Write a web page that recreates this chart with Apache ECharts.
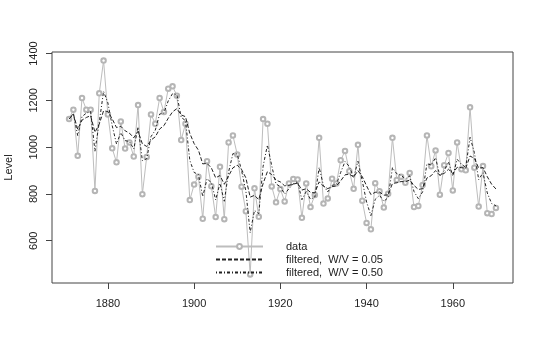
<!DOCTYPE html>
<html>
<head>
<meta charset="utf-8">
<script src="https://cdn.jsdelivr.net/npm/echarts@6/dist/echarts.min.js"></script>
<style>html,body{margin:0;padding:0;background:#fff;}#c{width:540px;height:349px;}</style>
</head>
<body>
<div id="c"></div>
<script>
var years = [1871,1872,1873,1874,1875,1876,1877,1878,1879,1880,1881,1882,1883,1884,1885,1886,1887,1888,1889,1890,
1891,1892,1893,1894,1895,1896,1897,1898,1899,1900,1901,1902,1903,1904,1905,1906,1907,1908,1909,1910,
1911,1912,1913,1914,1915,1916,1917,1918,1919,1920,1921,1922,1923,1924,1925,1926,1927,1928,1929,1930,
1931,1932,1933,1934,1935,1936,1937,1938,1939,1940,1941,1942,1943,1944,1945,1946,1947,1948,1949,1950,
1951,1952,1953,1954,1955,1956,1957,1958,1959,1960,1961,1962,1963,1964,1965,1966,1967,1968,1969,1970];
var level = [1120,1160,963,1210,1160,1160,813,1230,1370,1140,995,935,1110,994,1020,960,1180,799,958,1140,
1100,1210,1150,1250,1260,1220,1030,1100,774,840,874,694,940,833,701,916,692,1020,1050,969,
831,726,456,824,702,1120,1100,832,764,821,768,845,864,862,698,845,744,796,1040,759,
781,865,845,944,984,897,822,1010,771,676,649,846,812,742,801,1040,860,874,848,890,
744,749,838,1050,918,986,797,923,975,815,1020,906,901,1170,912,746,919,718,714,740];
var filtered005 = [1120,1140.5,1076.6,1115.4,1126.7,1134.5,1063.4,1098.9,1155.3,1152.2,1120.8,1083.6,1088.9,1069.9,1059.9,1039.9,1067.9,1014.1,1002.9,1030.3,
1044.2,1077.4,1091.9,1123.5,1150.8,1164.6,1137.7,1130.2,1059.0,1015.2,987.0,928.4,930.7,911.2,869.2,878.6,841.3,877.0,911.6,923.1,
904.7,869.0,786.4,793.9,775.5,844.4,895.5,882.8,859.0,851.4,834.7,836.8,842.2,846.2,816.6,822.3,806.6,804.5,851.6,833.1,
822.7,831.2,834.0,856.0,881.6,884.7,872.2,899.8,874.0,834.4,797.3,807.0,808.0,794.8,796.0,844.8,847.8,853.0,852.0,859.6,
836.5,819.0,822.8,868.2,878.2,899.8,879.2,888.0,905.4,887.3,913.8,912.2,910.0,962.0,952.0,910.8,912.4,873.5,841.6,821.3];
var filtered050 = [1120,1144,1049.2,1130.6,1145.3,1152.7,982.8,1106.4,1238.2,1189.1,1092.0,1013.5,1061.8,1027.9,1024.0,992.0,1086.0,942.5,950.2,1045.1,
1072.6,1141.3,1145.6,1197.8,1228.9,1224.5,1127.2,1113.6,943.8,891.9,883.0,788.5,864.2,848.6,774.8,845.4,768.7,894.4,972.2,970.6,
900.8,813.4,634.7,729.4,715.7,917.8,1008.9,920.5,842.2,831.6,799.8,822.4,843.2,852.6,775.3,810.2,777.1,786.5,913.3,836.1,
808.6,836.8,840.9,892.5,938.2,917.6,869.8,939.9,855.5,765.7,707.4,776.7,794.3,768.2,784.6,912.3,886.2,880.1,864.0,877.0,
810.5,779.8,808.9,929.4,923.7,954.9,875.9,899.5,937.2,876.1,948.1,927.0,914.0,1042.0,977.0,861.5,890.2,804.1,759.1,749.5];
var xTicks = [1880,1900,1920,1940,1960];
var yTicks = [600,800,1000,1200,1400];
var legendNames = ['data','filtered,  W/V = 0.05','filtered,  W/V = 0.50'];

function pairs(v){ return years.map(function(y,i){ return [y, v[i]]; }); }
function plain(v){ return String(v); }

var chart = echarts.init(document.getElementById('c'), null, {renderer:'canvas'});
var font = 'Liberation Sans, Arial, sans-serif';
chart.setOption({
  animation: false,
  backgroundColor: '#fff',
  grid: {left: 52, right: 27, top: 52, bottom: 66, outerBoundsMode: 'none', containLabel: false,
         show: true, borderColor: '#444', borderWidth: 1, backgroundColor: 'transparent'},
  legend: {
    orient: 'vertical', left: 210, top: 236,
    itemWidth: 47, itemHeight: 6, itemGap: 2,
    textStyle: {fontFamily: font, fontSize: 11, color: '#222', lineHeight: 11, padding: [0,0,0,18]},
    data: [
      {name: legendNames[0]},
      {name: legendNames[1], itemStyle: {opacity: 0}},
      {name: legendNames[2], itemStyle: {opacity: 0}}
    ]
  },
  xAxis: {
    type: 'value', min: 1867.04, max: 1973.96,
    axisLine: {show: false},
    axisTick: {show: true, length: 6, lineStyle: {color: '#444'}, customValues: xTicks},
    axisLabel: {fontFamily: font, fontSize: 11, color: '#222', margin: 15, customValues: xTicks, formatter: plain},
    splitLine: {show: false}
  },
  yAxis: {
    type: 'value', min: 419.4, max: 1406.6,
    name: 'Level', nameLocation: 'middle', nameGap: 38, nameRotate: 90,
    nameTextStyle: {fontFamily: font, fontSize: 11, color: '#222'},
    axisLine: {show: false},
    axisTick: {show: true, length: 6, lineStyle: {color: '#444'}, customValues: yTicks},
    axisLabel: {fontFamily: font, fontSize: 11, color: '#222', margin: 13, rotate: 90, customValues: yTicks, formatter: plain},
    splitLine: {show: false}
  },
  series: [
    {name: legendNames[0], type: 'line', data: pairs(level), symbol: 'emptyCircle', symbolSize: 4.5,
     lineStyle: {color: '#bdbdbd', width: 1}, itemStyle: {color: '#b5b5b5', borderColor: '#b5b5b5', borderWidth: 0.7}, z: 2},
    {name: legendNames[1], type: 'line', data: pairs(filtered005), symbol: 'none',
     lineStyle: {color: '#222', width: 1, type: [4,2]}, itemStyle: {color: '#222'}, z: 3},
    {name: legendNames[2], type: 'line', data: pairs(filtered050), symbol: 'none',
     lineStyle: {color: '#222', width: 1, type: [1,2,3,2]}, itemStyle: {color: '#222'}, z: 4}
  ]
});
</script>
</body>
</html>
